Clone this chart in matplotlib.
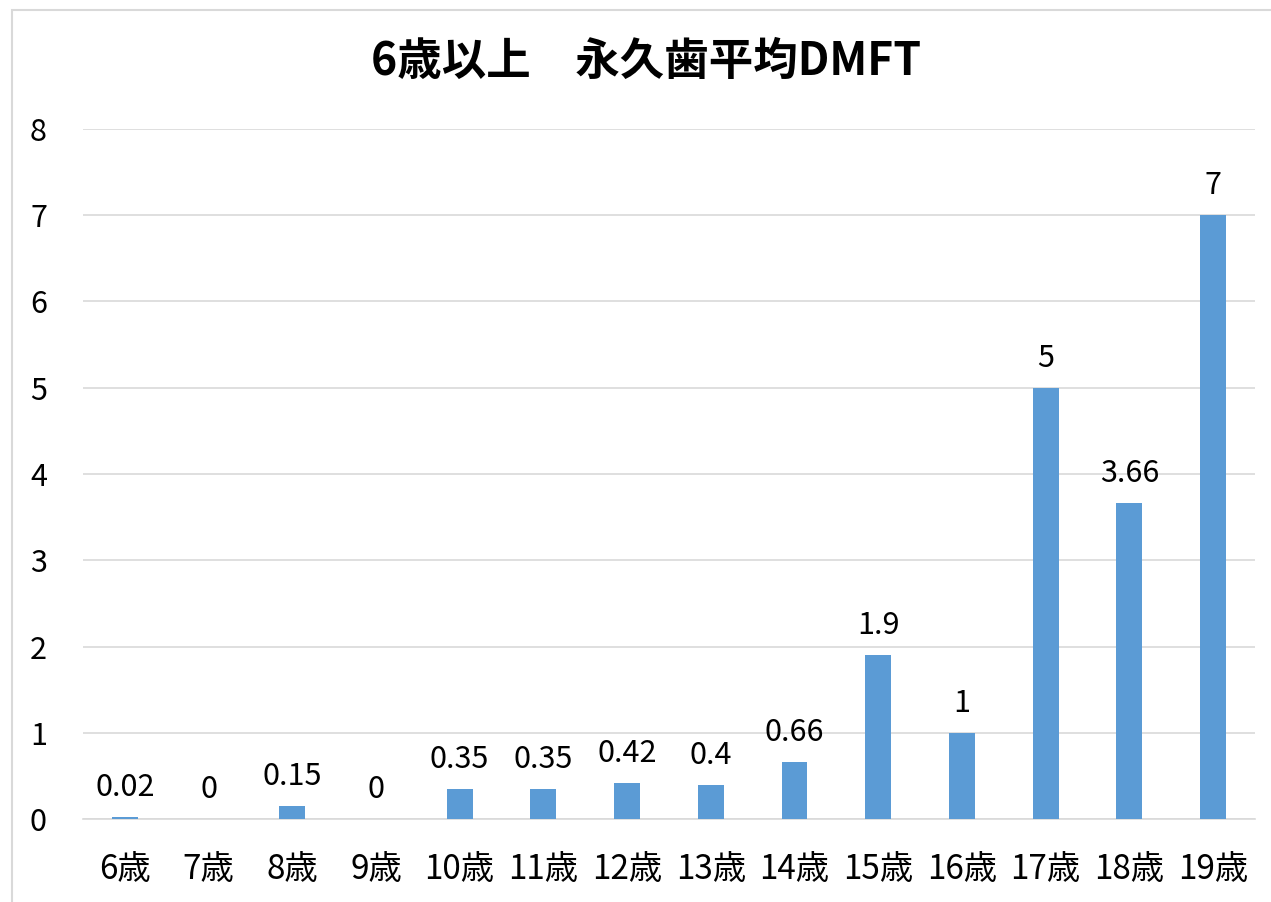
import matplotlib
matplotlib.use('Agg')
import matplotlib.pyplot as plt
from matplotlib.patches import Rectangle

plt.rcParams['font.family'] = ['Noto Sans CJK JP', 'DejaVu Sans']

# data
ages = ['6歳', '7歳', '8歳', '9歳', '10歳', '11歳', '12歳', '13歳',
        '14歳', '15歳', '16歳', '17歳', '18歳', '19歳']
dmft = [0.02, 0, 0.15, 0, 0.35, 0.35, 0.42, 0.4, 0.66, 1.9, 1, 5, 3.66, 7]
value_labels = ['0.02', '0', '0.15', '0', '0.35', '0.35', '0.42', '0.4',
                '0.66', '1.9', '1', '5', '3.66', '7']
title = '6歳以上\u3000永久歯平均DMFT'

fig = plt.figure(figsize=(12.71, 9.02), dpi=100)
ax = fig.add_axes([0.0653, 0.092, 0.922, 0.765])

x = range(len(ages))
ax.bar(x, dmft, width=0.31, color='#5B9BD5', zorder=3)

for i, (v, lab) in enumerate(zip(dmft, value_labels)):
    ax.annotate(lab, (i, v), xytext=(0, 10), textcoords='offset points',
                ha='center', va='bottom', fontsize=22, color='black')

ax.set_xlim(-0.5, len(ages) - 0.5)
ax.set_ylim(0, 8)
ax.set_yticks(range(0, 9))
ax.set_xticks(list(x))
ax.set_xticklabels(ages)
ax.tick_params(axis='y', length=0, labelsize=22, colors='black', pad=26)
ax.tick_params(axis='x', length=0, labelsize=24, colors='black', pad=24)

ax.grid(axis='y', color='#D9D9D9', linewidth=1.2, zorder=0)
for s in ['top', 'right', 'left']:
    ax.spines[s].set_visible(False)
ax.spines['bottom'].set_color('#D9D9D9')
ax.spines['bottom'].set_linewidth(1.2)

fig.text(0.508, 0.931, title, ha='center', va='center', fontsize=32,
         fontweight='bold')

# light outer frame
fig.patches.append(Rectangle((12 / 1271, -0.01), 1.1, (892 / 902) + 0.01,
                             transform=fig.transFigure, fill=False,
                             edgecolor='#D9D9D9', linewidth=1.5))

fig.savefig('out.png', dpi=100)
